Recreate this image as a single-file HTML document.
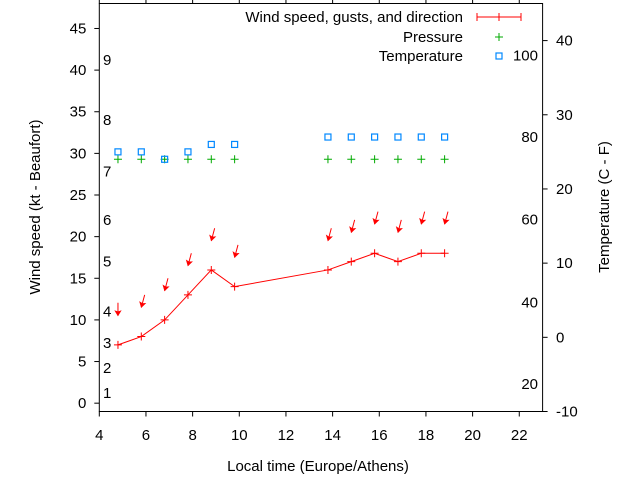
<!DOCTYPE html>
<html><head><meta charset="utf-8"><style>
html,body{margin:0;padding:0;background:#fff}
text{font-family:"Liberation Sans",sans-serif;font-size:15px;fill:#000}
</style></head><body>
<svg id="chart" width="640" height="480" viewBox="0 0 640 480" xmlns="http://www.w3.org/2000/svg">
</svg>
<script>
const hours=[4.8,5.8,6.8,7.8,8.8,9.8,13.8,14.8,15.8,16.8,17.8,18.8];
const windSpeed=[7,8,10,13,16,14,16,17,18,17,18,18];
const gusts=[10.5,11.5,13.5,16.5,19.5,17.5,19.5,20.5,21.5,20.5,21.5,21.5];
const windDir=[0,15,15,15,15,15,15,15,15,15,15,15];
const pressure=[29.3,29.3,29.3,29.3,29.3,29.3,29.3,29.3,29.3,29.3,29.3,29.3];
const temperature=[25,25,24,25,26,26,27,27,27,27,27,27];
const xTicks=[4,6,8,10,12,14,16,18,20,22];
const yTicks=[0,5,10,15,20,25,30,35,40,45];
const y2Ticks=[-10,0,10,20,30,40];
const beaufort=[[1,1.2],[2,4.2],[3,7.2],[4,11],[5,17],[6,22],[7,27.8],[8,34],[9,41.2]];
const fahr=[[20,-6.3],[40,4.7],[60,15.9],[80,27],[100,38]];

const L=99.3,R=542.6,T=3.5,B=411.5;
const X=v=>L+(v-4)*(R-L)/19;
const Y=v=>B-(v+1)*(B-T)/49;
const Y2=v=>B-(v+10)*(B-T)/55;
const svg=document.getElementById('chart');
const NS='http://www.w3.org/2000/svg';
function mk(tag,attrs,parent){const e=document.createElementNS(NS,tag);for(const k in attrs)e.setAttribute(k,attrs[k]);(parent||svg).appendChild(e);return e;}
function txt(x,y,s,anchor,name){const t=mk('text',{x:x,y:y,'text-anchor':anchor||'start'});t.textContent=s;

return t;}

const fr=mk('rect',{x:L,y:T,width:R-L,height:B-T,fill:'none',stroke:'#000','stroke-width':1});


xTicks.forEach(v=>{const x=X(v);
 const t1=mk('line',{x1:x,y1:B,x2:x,y2:B+5,stroke:'#000'});
 
 
 const t2=mk('line',{x1:x,y1:T,x2:x,y2:T-5,stroke:'#000'});
 
 
 txt(x,440,String(v),'middle','x-tick-label');});
yTicks.forEach(v=>{const y=Y(v);
 const t=mk('line',{x1:L-5,y1:y,x2:L,y2:y,stroke:'#000'});
 
 
 txt(L-13,y+5,String(v),'end','y-tick-label');});
y2Ticks.forEach(v=>{const y=Y2(v);
 const t=mk('line',{x1:R,y1:y,x2:R+5,y2:y,stroke:'#000'});
 
 
 txt(556,y+5,String(v),'start','y2-tick-label');});
beaufort.forEach(b=>txt(103,Y(b[1])+5,String(b[0]),'start','beaufort-label'));
fahr.forEach(f=>txt(538,Y2(f[1])+5,String(f[0]),'end','fahrenheit-label'));

txt(318,471,'Local time (Europe/Athens)','middle','x-axis-title');
const yt=txt(0,0,'Wind speed (kt - Beaufort)','middle','y-axis-title');yt.setAttribute('transform','translate(40,207) rotate(-90)');
const y2t=txt(0,0,'Temperature (C - F)','middle','y2-axis-title');y2t.setAttribute('transform','translate(609,207) rotate(-90)');

const pts=hours.map((h,i)=>X(h)+','+Y(windSpeed[i])).join(' ');
const pl=mk('polyline',{points:pts,fill:'none',stroke:'#f00','stroke-width':1});


hours.forEach((h,i)=>{const x=X(h),y=Y(windSpeed[i]);
 const p=mk('path',{d:`M${x-4},${y}H${x+4}M${x},${y-4}V${y+4}`,stroke:'#f00','stroke-width':1});
 
 });
hours.forEach((h,i)=>{const x=X(h),y=Y(gusts[i]);const a=windDir[i]*Math.PI/180;const len=13;
 const tx=x+Math.sin(a)*len,ty=y-Math.cos(a)*len;
 const g=mk('g',{stroke:'#f00','stroke-width':1,fill:'#f00'});
 
 
 mk('line',{x1:tx,y1:ty,x2:x,y2:y},g);
 const ux=Math.sin(a),uy=-Math.cos(a),px=-uy,py=ux;
 mk('polygon',{points:`${x},${y} ${x+ux*5+px*3},${y+uy*5+py*3} ${x+ux*4},${y+uy*4} ${x+ux*5-px*3},${y+uy*5-py*3}`,'stroke-width':0.6},g);});
hours.forEach((h,i)=>{const x=X(h),y=Y(pressure[i]);
 const p=mk('path',{d:`M${x-4},${y}H${x+4}M${x},${y-4}V${y+4}`,stroke:'#0a0','stroke-width':1});
 
 });
hours.forEach((h,i)=>{const x=X(h),y=Y2(temperature[i]);
 const r=mk('rect',{x:x-3,y:y-3,width:6,height:6,fill:'none',stroke:'#08f','stroke-width':1.2});
 
 });

txt(463,22,'Wind speed, gusts, and direction','end','legend-wind-label');
const lw=mk('path',{d:'M477,17H521M477,13V21M521,13V21M499,13V21',stroke:'#f00','stroke-width':1,fill:'none'});


txt(463,42,'Pressure','end','legend-pressure-label');
const lp=mk('path',{d:'M495,37H503M499,33V41',stroke:'#0a0','stroke-width':1});


txt(463,61,'Temperature','end','legend-temperature-label');
const lt=mk('rect',{x:496,y:53,width:6,height:6,fill:'none',stroke:'#08f','stroke-width':1.2});


</script>
</body></html>
